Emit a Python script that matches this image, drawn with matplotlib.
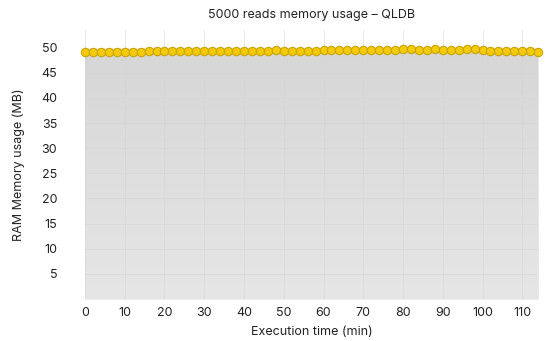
import numpy as np
import matplotlib
matplotlib.use('Agg')
import matplotlib.pyplot as plt

plt.rcParams['font.family'] = ['Inter', 'DejaVu Sans']

# memory samples every 2 minutes
minutes = list(range(0, 116, 2))
mem_mb = [49.2, 49.2, 49.2, 49.2, 49.2, 49.2, 49.2, 49.2, 49.3, 49.3,
          49.3, 49.3, 49.3, 49.3, 49.4, 49.3, 49.3, 49.3, 49.3, 49.4,
          49.4, 49.4, 49.4, 49.4, 49.5, 49.4, 49.4, 49.4, 49.4, 49.4,
          49.5, 49.5, 49.5, 49.5, 49.5, 49.6, 49.5, 49.6, 49.6, 49.6,
          49.7, 49.7, 49.6, 49.6, 49.7, 49.6, 49.6, 49.6, 49.7, 49.7,
          49.6, 49.4, 49.4, 49.4, 49.3, 49.4, 49.3, 49.2]
xticks = list(range(0, 111, 10))
yticks = [5, 10, 15, 20, 25, 30, 35, 40, 45, 50]

fig = plt.figure(figsize=(5.5, 3.41), dpi=100)
ax = fig.add_axes([0.1545, 0.123, 0.824, 0.789])

# shaded area under the line, darker near the top
x = np.array(minutes)
y = np.array(mem_mb)
poly = ax.fill_between(x, 0, y, color='#dedede', lw=0, zorder=1)
grad = np.linspace(0, 1, 256).reshape(-1, 1)
img = ax.imshow(grad, extent=[0, 114, 0, 50], origin='lower', aspect='auto',
                cmap=matplotlib.colors.LinearSegmentedColormap.from_list('g', ['#e6e6e6', '#d6d6d6']),
                zorder=1.5)
img.set_clip_path(poly.get_paths()[0], transform=ax.transData)

ax.plot(x, y, color='#d9b400', lw=1, marker='o', markersize=6,
        markerfacecolor='#f3cb0c', markeredgecolor='#c9a300', markeredgewidth=0.8,
        zorder=4, clip_on=False)

ax.set_xlim(0, 114)
ax.set_ylim(0, 53.5)
ax.set_xticks(xticks)
ax.set_yticks(yticks)
ax.grid(True, color='#d4d4d4', lw=0.6, alpha=0.6, zorder=2)
ax.set_axisbelow(False)
for s in ax.spines.values():
    s.set_visible(False)
ax.tick_params(length=0, labelsize=9, colors='#222222')
ax.tick_params(axis='y', pad=20)
ax.tick_params(axis='x', pad=6)

ax.set_xlabel('Execution time (min)', fontsize=9, color='#222222', labelpad=5)
ax.set_ylabel('RAM Memory usage (MB)', fontsize=9, color='#222222', labelpad=12)
ax.set_title('5000 reads memory usage – QLDB', fontsize=9, color='#222222', pad=9)

plt.savefig('out.png', dpi=100)
